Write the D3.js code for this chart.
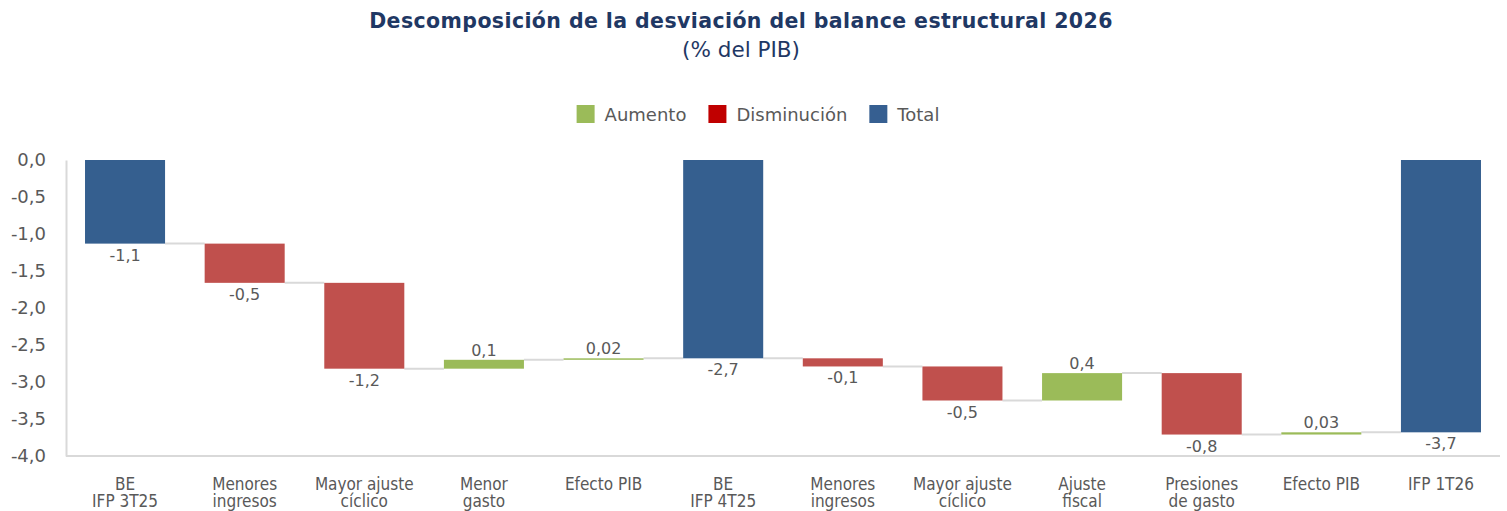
<!DOCTYPE html>
<html><head><meta charset="utf-8">
<script src="https://cdn.jsdelivr.net/npm/d3@7"></script>
<style>
body{margin:0;background:#fff;}
svg{display:block;}
</style></head>
<body><svg id="chart" width="1507" height="511"></svg>
<script>
const categories = [["BE","IFP 3T25"],["Menores","ingresos"],["Mayor ajuste","cíclico"],["Menor","gasto"],["Efecto PIB"],["BE","IFP 4T25"],["Menores","ingresos"],["Mayor ajuste","cíclico"],["Ajuste","fiscal"],["Presiones","de gasto"],["Efecto PIB"],["IFP 1T26"]];
const values = [-1.13,-0.53,-1.16,0.12,0.02,-2.68,-0.11,-0.46,0.37,-0.83,0.03,-3.68];
const isTotal = [true,false,false,false,false,true,false,false,false,false,false,true];
const valueLabels = ["-1,1","-0,5","-1,2","0,1","0,02","-2,7","-0,1","-0,5","0,4","-0,8","0,03","-3,7"];
const yTicks = [0,-0.5,-1,-1.5,-2,-2.5,-3,-3.5,-4];
const legendItems = ["Aumento","Disminución","Total"];

const colors = {up:"#9BBB59", down:"#C0504D", total:"#355F8F"};
const legendColors = ["#9BBB59","#C00000","#365F91"];
const textGray = "#595959", gridGray = "#d9d9d9", titleColor = "#1F3864";

const svg = d3.select("#chart");
const font = "'DejaVu Sans', Verdana, sans-serif";

const x = d3.scaleBand().domain(d3.range(categories.length)).range([66,1500]).paddingInner(0.331).paddingOuter(0.159);
const y = d3.scaleLinear().domain([-4,0]).range([456,160]);

let level = 0;
const bars = values.map((v,i)=>{
  let start, end, type;
  if (isTotal[i]) { start = 0; end = v; type="total"; level = v; }
  else { start = level; end = level + v; level = end; type = v>=0?"up":"down"; }
  return {i, v, start, end, type, label: valueLabels[i]};
});

// Title
svg.append("text").attr("x",741).attr("y",27.5).attr("text-anchor","middle")
  .attr("font-family",font).attr("font-weight","bold").attr("font-size",20.5).attr("letter-spacing",0.4).attr("fill",titleColor)
  .text("Descomposición de la desviación del balance estructural 2026");
svg.append("text").attr("x",741).attr("y",57).attr("text-anchor","middle")
  .attr("font-family",font).attr("font-size",21.5).attr("fill",titleColor)
  .text("(% del PIB)");

// Legend
const lg = svg.append("g");
let lx = 0;
legendItems.forEach((name,k)=>{
  const g = lg.append("g").attr("transform",`translate(${lx},0)`);
  g.append("rect").attr("x",0).attr("y",105).attr("width",18).attr("height",18).attr("fill",legendColors[k]);
  const t = g.append("text").attr("x",28).attr("y",121).attr("font-family",font).attr("font-size",18).attr("fill",textGray).text(name);
  lx += 28 + t.node().getComputedTextLength() + 22;
});
const lw = lx - 22;
lg.attr("transform",`translate(${758 - lw/2},0)`);

// Axes
const yAxis = svg.append("g").attr("transform","translate(66,0)")
  .call(d3.axisLeft(y).tickValues(yTicks).tickSize(0).tickPadding(20).tickFormat(d=>d3.format(".1f")(d).replace(".",",").replace("−","-")));
yAxis.select(".domain").attr("stroke",gridGray).attr("stroke-width",2);
yAxis.selectAll("text").attr("font-family",font).attr("font-size",18).attr("fill",textGray);

const xAxis = svg.append("g").attr("transform","translate(0,456)")
  .call(d3.axisBottom(x).tickSize(0).tickFormat(""));
xAxis.select(".domain").attr("stroke",gridGray).attr("stroke-width",2).attr("d","M66,0H1500");
xAxis.selectAll(".tick").each(function(d){
  const t = d3.select(this).append("text").attr("text-anchor","middle")
    .attr("font-family","'DejaVu Sans Condensed', 'DejaVu Sans', sans-serif").attr("font-stretch","condensed")
    .attr("font-size",17).attr("fill",textGray).attr("y",33.5);
  categories[d].forEach((line,j)=>{
    t.append("tspan").attr("x",0).attr("dy", j===0?0:17.5).text(line);
  });
});

// Connectors
svg.append("g").selectAll("line").data(bars.slice(0,-1)).join("line")
  .attr("x1",d=>x(d.i)+x.bandwidth()).attr("x2",d=>x(d.i+1))
  .attr("y1",d=>y(d.end)).attr("y2",d=>y(d.end))
  .attr("stroke",gridGray).attr("stroke-width",2);

// Bars
svg.append("g").selectAll("rect").data(bars).join("rect")
  .attr("x",d=>x(d.i)).attr("width",x.bandwidth())
  .attr("y",d=>y(Math.max(d.start,d.end)))
  .attr("height",d=>Math.abs(y(d.start)-y(d.end)))
  .attr("fill",d=>colors[d.type]);

// Value labels
svg.append("g").selectAll("text").data(bars).join("text")
  .attr("x",d=>x(d.i)+x.bandwidth()/2)
  .attr("y",d=> d.type==="up" ? y(d.end)-4 : y(Math.min(d.start,d.end))+17)
  .attr("text-anchor","middle").attr("font-family",font).attr("font-size",16).attr("fill",textGray)
  .text(d=>d.label);
</script></body></html>
